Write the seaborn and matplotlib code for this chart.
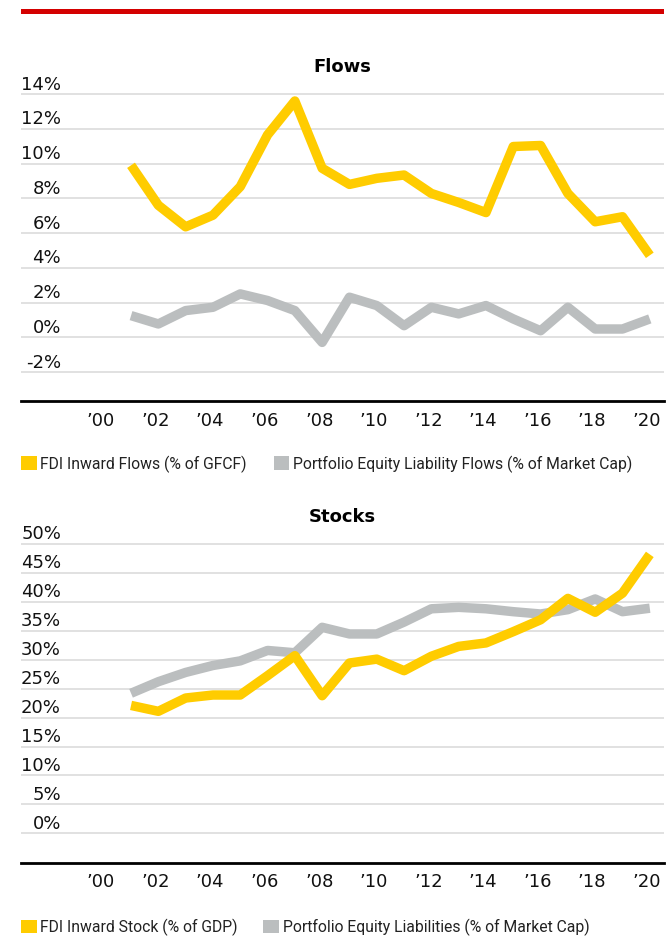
import pandas as pd
import matplotlib
matplotlib.use('Agg')
import matplotlib.pyplot as plt
import matplotlib.transforms as mtransforms
from matplotlib.patches import Patch, Rectangle
import seaborn as sns

years = list(range(2001, 2021))
# flows, % values
fdi_flows = [9.9, 7.6, 6.36, 7.03, 8.67, 11.65, 13.6, 9.73, 8.8, 9.15, 9.34, 8.28,
             7.76, 7.18, 10.98, 11.04, 8.28, 6.65, 6.94, 4.72]
pe_flows = [1.25, 0.77, 1.54, 1.73, 2.5, 2.12, 1.54, -0.29, 2.31, 1.83, 0.67, 1.73,
            1.35, 1.83, 1.06, 0.38, 1.73, 0.48, 0.48, 1.06]
# stocks, % values
fdi_stock = [22.1, 21.08, 23.38, 23.9, 23.9, 27.24, 30.7, 23.78, 29.43, 30.1, 28.1, 30.6,
             32.3, 32.9, 34.85, 36.9, 40.6, 38.2, 41.5, 48.2]
pe_stock = [24.2, 26.2, 27.8, 29.0, 29.8, 31.6, 31.2, 35.6, 34.45, 34.45, 36.5, 38.8,
            39.05, 38.8, 38.3, 37.9, 38.65, 40.5, 38.3, 38.9]

flow_names = ['FDI Inward Flows (% of GFCF)', 'Portfolio Equity Liability Flows (% of Market Cap)']
stock_names = ['FDI Inward Stock (% of GDP)', 'Portfolio Equity Liabilities (% of Market Cap)']
flow_ticks = [-2, 0, 2, 4, 6, 8, 10, 12, 14]
stock_ticks = [0, 5, 10, 15, 20, 25, 30, 35, 40, 45, 50]
year_ticks = list(range(2000, 2021, 2))
year_labels = ['\u2019%02d' % (y % 100) for y in year_ticks]

YELLOW = '#FFCC00'
GREY = '#BBBEBF'

sns.set_style('white')
plt.rcParams['font.family'] = ['DejaVu Sans']

W, H = 666, 937
fig = plt.figure(figsize=(W / 100, H / 100), dpi=100)


def px_axes(left, top, right, bottom):
    return fig.add_axes([left / W, 1 - bottom / H, (right - left) / W, (bottom - top) / H])


def draw_panel(ax, title, names, fdi, pe, ticks, ylim):
    df = pd.DataFrame({'Year': years * 2,
                       'Value': fdi + pe,
                       'Series': [names[0]] * len(years) + [names[1]] * len(years)})
    sns.lineplot(data=df, x='Year', y='Value', hue='Series',
                 hue_order=[names[1], names[0]],
                 palette={names[0]: YELLOW, names[1]: GREY},
                 linewidth=6.8, solid_capstyle='butt', legend=False, ax=ax)
    ax.set_xlim(1996.97, 2020.52)
    ax.set_ylim(*ylim)
    ax.set_yticks(ticks)
    ax.set_yticklabels([])
    ax.yaxis.grid(True, color='#DCDCDC', linewidth=1.2)
    ax.xaxis.grid(False)
    ax.tick_params(axis='y', length=0)
    ax.set_xticks(year_ticks)
    ax.set_xticklabels(year_labels, fontsize=13, color='#111111')
    ax.tick_params(axis='x', length=0, pad=6.8)
    xoff = mtransforms.ScaledTranslation(-3 / 100, 0, fig.dpi_scale_trans)
    for lab in ax.get_xticklabels():
        lab.set_transform(lab.get_transform() + xoff)
    ax.set_xlabel('')
    ax.set_ylabel('')
    for s in ['top', 'left', 'right']:
        ax.spines[s].set_visible(False)
    ax.spines['bottom'].set_color('black')
    ax.spines['bottom'].set_linewidth(2.0)
    ax.set_title(title, fontweight='bold', fontsize=13, pad=13, color='black')
    # labels sit just above their gridline
    off = mtransforms.ScaledTranslation(0, 5.5 / 100, fig.dpi_scale_trans)
    for t in ticks:
        ax.text(0.0622, t, '%d%%' % t, transform=ax.get_yaxis_transform() + off,
                ha='right', va='baseline', fontsize=13, color='#111111')


ax1 = px_axes(21, 90, 664, 402.3)
draw_panel(ax1, 'Flows', flow_names, fdi_flows, pe_flows, flow_ticks, (-3.68, 14.29))

ax2 = px_axes(21, 540, 664, 864)
draw_panel(ax2, 'Stocks', stock_names, fdi_stock, pe_stock, stock_ticks, (-5.13, 50.86))

# red rule across the top
fig.add_artist(Rectangle((21 / W, 1 - 15 / H), (664 - 21) / W, 5 / H,
                         transform=fig.transFigure, color='#D40000', lw=0))

for names, yc, gap in [(flow_names, 464.7, 1.7), (stock_names, 927.8, 1.6)]:
    handles = [Patch(facecolor=YELLOW, edgecolor='none', label=names[0]),
               Patch(facecolor=GREY, edgecolor='none', label=names[1])]
    fig.legend(handles=handles, loc='center left', bbox_to_anchor=(21 / W, 1 - yc / H),
               ncol=2, frameon=False, borderpad=0, borderaxespad=0,
               handlelength=1.0, handleheight=0.93, handletextpad=0.24,
               columnspacing=gap, labelcolor='#222222',
               prop={'family': 'Roboto', 'size': 11.3})

fig.savefig('out.png', dpi=100)
